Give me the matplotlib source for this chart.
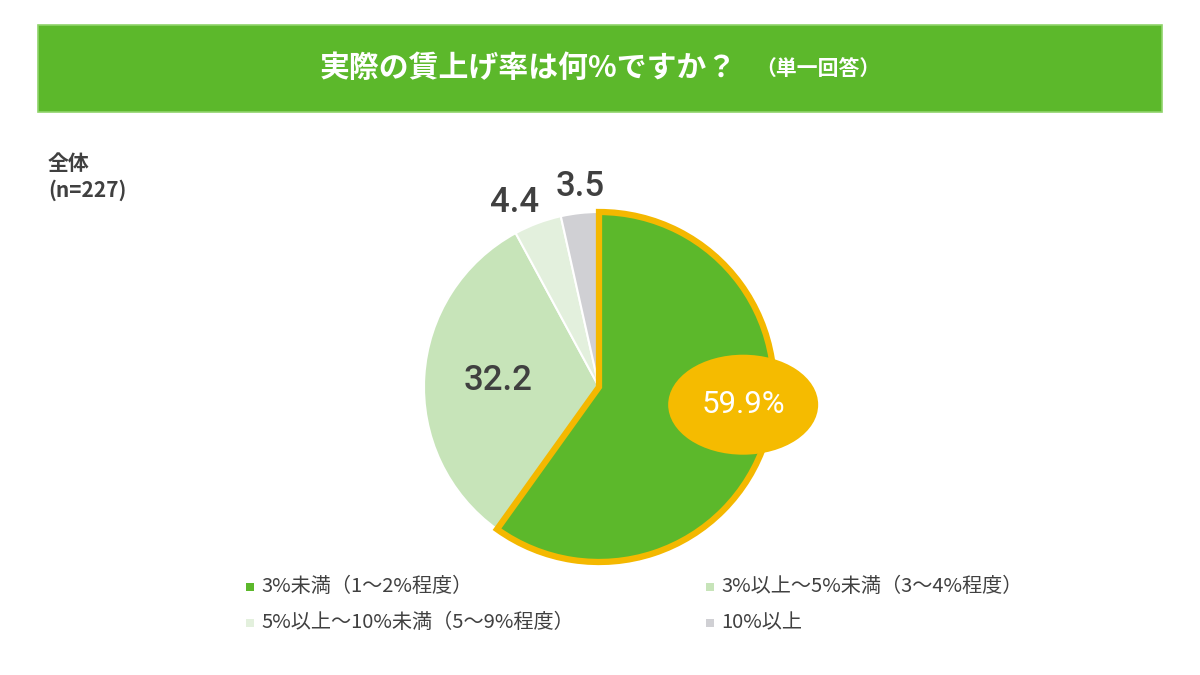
import numpy as np
import matplotlib.pyplot as plt
from matplotlib.patches import Ellipse, Rectangle

plt.rcParams['font.family'] = ['Noto Sans CJK JP', 'DejaVu Sans']

title = "実際の賃上げ率は何%ですか？"
title_note = "（単一回答）"
group_label = "全体\n(n=227)"
categories = ["3%未満（1〜2%程度）", "3%以上〜5%未満（3〜4%程度）",
              "5%以上〜10%未満（5〜9%程度）", "10%以上"]
values = [59.9, 32.2, 4.4, 3.5]
value_labels = ["59.9%", "32.2", "4.4", "3.5"]
colors = ["#5cb82b", "#c7e4b9", "#e3f0dd", "#d0d0d4"]

W, H = 1200, 675
fig = plt.figure(figsize=(12, 6.75), dpi=100)
ax = fig.add_axes([0, 0, 1, 1])

# title band
ax.add_patch(Rectangle((38, H - 112), 1124, 87, facecolor="#5cb82b",
                       edgecolor="#8fd36a", linewidth=1.2))
t_main = ax.text(0, H - 68, title, ha="left", va="center", color="white",
                 fontsize=21.5, fontweight="bold")
t_note = ax.text(0, H - 69, title_note, ha="left", va="center", color="white",
                 fontsize=15, fontweight="bold")

cx, cy, rad = 599, H - 387, 175
wedges, _ = ax.pie(values, colors=colors, startangle=90, counterclock=False,
                   center=(cx, cy), radius=rad, frame=True,
                   wedgeprops=dict(edgecolor="white", linewidth=1.5))
ax.set_xlim(0, W)
ax.set_ylim(0, H)
ax.set_aspect("equal")
ax.axis("off")
wedges[0].set_edgecolor("#f4b800")
wedges[0].set_linewidth(4.5)
wedges[0].set_zorder(3)

# centre the title + note together
fig.canvas.draw()
r = fig.canvas.get_renderer()
w1 = t_main.get_window_extent(r).width + 18
w2 = t_note.get_window_extent(r).width
x0 = 600 - (w1 + w2) / 2
t_main.set_x(x0)
t_note.set_x(x0 + w1)

ax.text(48, H - 153, group_label, ha="left", va="top", color="#404040",
        fontsize=15, fontweight="bold", linespacing=1.3)

# value labels (distance from centre, angle shift in degrees)
label_dist = [None, 0.58, 1.16, 1.15]
label_shift = [None, 0, 4, -1]
for w, lab, d, s in zip(wedges[1:], value_labels[1:], label_dist[1:], label_shift[1:]):
    ang = np.deg2rad((w.theta1 + w.theta2) / 2 + s)
    ax.text(cx + d * rad * np.cos(ang), cy + d * rad * np.sin(ang), lab,
            ha="center", va="center", fontsize=25, color="#404040",
            fontweight="medium", family=["Roboto", "DejaVu Sans"], zorder=5)

ang0 = np.deg2rad(-7)
ex, ey = cx + 0.83 * rad * np.cos(ang0), cy + 0.83 * rad * np.sin(ang0)
ax.add_patch(Ellipse((ex, ey), 150, 100, facecolor="#f5bb00", edgecolor="none", zorder=4))
ax.text(ex, ey, value_labels[0], ha="center", va="center", fontsize=22.5,
        color="white", family=["Roboto", "DejaVu Sans"], zorder=5)

# legend
leg_pos = [(250, H - 587), (710, H - 587), (250, H - 623), (710, H - 623)]
for (lx, ly), c, name in zip(leg_pos, colors, categories):
    ax.add_patch(Rectangle((lx - 4, ly - 4), 8, 8, facecolor=c, edgecolor="none"))
    ax.text(lx + 11, ly, name, ha="left", va="center", fontsize=14.5, color="#404040")

fig.savefig("out.png", dpi=100)
